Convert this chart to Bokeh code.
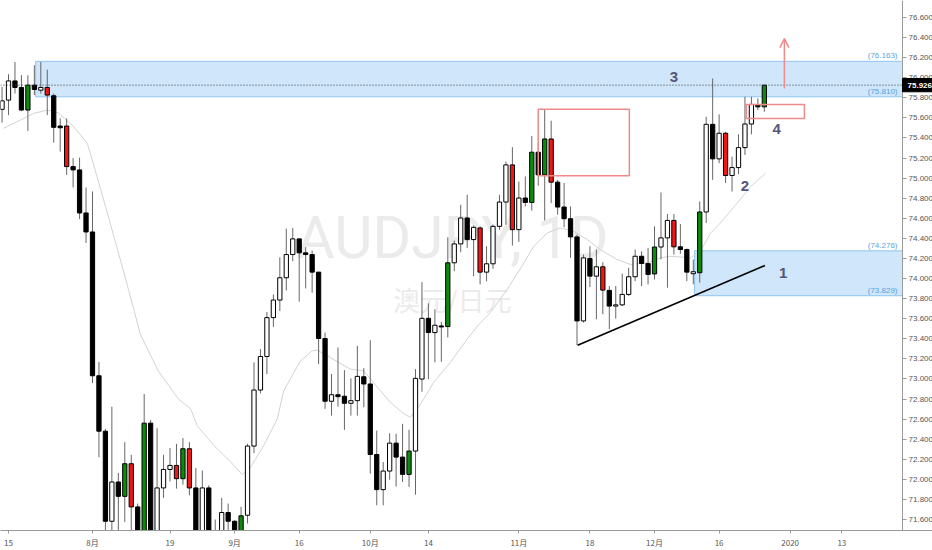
from bokeh.plotting import figure
from bokeh.models import (ColumnDataSource, Range1d, FixedTicker, NumeralTickFormatter,
                          Label, Arrow, OpenHead)
from bokeh.core.properties import value
from bokeh.embed import file_html
from bokeh.resources import INLINE

# ---------------- data ----------------
bar_idx = list(range(-1, 118))   # trading-day index, 0 = 15 Jul 2019
bar_style = ["w","w","b","b","g","b","w","r","b","b","r","b","b","b","b","b","b","w","b","g",
             "r","b","g","b","w","w","w","r","g","r","b","w","b","b","w","b","b","g","w","w",
             "w","w","w","w","w","w","b","b","b","b","b","w","b","b","w","w","b","b","b","w",
             "w","b","b","g","w","w","b","w","b","g","w","w","b","w","r","w","w","w","w","r",
             "w","b","g","b","g","r","b","b","b","b","w","b","w","r","b","w","w","w","w","b",
             "b","g","w","w","r","b","b","w","g","w","b","w","r","w","w","w","w","b","g"]
opens = [75.685,75.777,75.968,75.903,75.678,75.926,75.876,75.903,75.820,75.519,
         75.519,75.115,75.082,74.653,74.464,73.032,72.480,71.583,71.974,71.831,
         72.156,71.726,71.332,72.560,71.362,71.915,72.099,72.139,72.007,72.305,
         71.915,71.412,71.915,71.461,71.412,71.670,71.583,71.452,71.643,72.332,
         72.890,73.224,73.611,73.786,74.008,74.239,74.395,74.256,74.239,74.064,
         73.403,72.778,72.843,72.828,72.758,72.784,73.022,72.950,72.248,71.898,
         72.083,72.361,72.222,72.050,72.282,72.999,73.604,73.462,73.528,73.522,
         74.157,74.345,74.603,74.388,74.504,74.064,74.147,74.520,74.762,75.132,
         74.487,74.802,74.758,75.258,75.033,75.390,74.960,74.712,74.596,74.415,
         73.578,74.200,74.024,74.117,73.882,73.726,73.738,73.842,74.018,74.222,
         74.150,74.046,74.314,74.405,74.579,74.316,74.289,74.048,74.058,74.663,
         75.536,75.192,75.447,75.026,75.105,75.304,75.539,75.727,75.710]
highs = [75.909,76.035,76.157,76.025,76.025,76.124,76.157,76.081,75.843,75.595,
         75.595,75.199,75.205,74.907,74.867,73.171,72.503,72.724,72.064,72.371,
         72.245,71.759,72.850,72.592,72.510,72.245,72.312,72.354,72.411,72.371,
         72.113,72.089,71.941,71.600,71.816,71.759,71.593,71.726,72.354,73.165,
         73.297,73.667,73.842,74.212,74.497,74.504,74.398,74.312,74.279,74.064,
         73.462,73.049,73.314,73.088,73.006,73.330,73.108,73.386,72.486,72.173,
         72.460,72.454,72.553,72.493,73.098,73.964,73.753,73.694,73.568,74.411,
         74.378,74.735,74.834,74.527,74.520,74.322,74.537,74.834,75.165,75.308,
         74.966,75.016,75.420,75.353,75.678,75.572,74.983,74.951,74.718,74.438,
         74.239,74.322,74.289,74.163,73.925,73.925,74.048,74.107,74.289,74.272,
         74.306,74.520,74.857,74.643,74.643,74.544,74.299,74.190,74.768,75.611,
         75.992,75.635,75.462,75.214,75.437,75.810,75.810,75.794,75.926]
lows = [75.552,75.628,75.843,75.668,75.469,75.827,75.843,75.628,75.353,75.264,
        75.033,74.907,74.593,74.355,72.959,72.222,71.362,71.412,71.412,71.577,
        71.412,71.213,71.213,71.263,71.263,71.816,71.980,71.908,71.948,71.841,
        71.313,71.313,71.313,71.213,71.332,71.412,71.332,71.362,71.561,72.262,
        72.857,73.049,73.518,73.677,73.882,74.173,73.770,73.902,73.859,73.148,
        72.702,72.635,72.724,72.493,72.635,72.635,72.718,72.057,71.742,71.742,
        71.997,71.928,71.974,71.925,71.848,72.873,72.999,73.165,73.171,73.413,
        74.074,74.262,74.306,74.024,73.942,73.974,74.097,74.487,74.537,74.329,
        74.365,74.718,74.676,74.924,74.579,74.752,74.636,74.510,74.206,73.336,
        73.562,73.915,73.594,73.644,73.495,73.601,73.726,73.826,73.974,73.925,
        73.942,73.991,74.190,73.909,74.239,74.246,73.974,73.942,73.958,74.554,
        74.983,75.149,74.951,74.867,75.040,75.231,75.437,75.678,75.661]
closes = [75.770,75.968,75.903,75.678,75.926,75.883,75.903,75.827,75.506,75.502,
          75.115,75.082,74.653,74.464,73.032,72.480,71.583,71.974,71.831,72.156,
          71.726,71.313,72.560,71.362,71.915,72.099,72.139,72.007,72.305,71.915,
          71.412,71.915,71.412,71.313,71.670,71.583,71.412,71.637,72.332,72.890,
          73.224,73.611,73.786,74.008,74.239,74.395,74.256,74.239,74.064,73.403,
          72.778,72.843,72.824,72.758,72.784,73.026,72.950,72.248,71.898,72.083,
          72.361,72.222,72.050,72.282,73.006,73.604,73.462,73.535,73.518,74.157,
          74.345,74.603,74.388,74.510,74.064,74.147,74.520,74.762,75.132,74.487,
          74.802,74.758,75.258,75.033,75.390,74.960,74.712,74.596,74.415,73.578,
          74.206,74.024,74.117,73.885,73.726,73.738,73.842,74.018,74.222,74.150,
          74.041,74.314,74.405,74.579,74.316,74.289,74.064,74.068,74.663,75.536,
          75.192,75.447,75.026,75.105,75.304,75.539,75.734,75.710,75.926]

# moving average line
ma_x = [-0.8,1.9,3.9,6.0,7.7,10.1,12.2,13.7,15.3,17.3,19.4,20.4,23.2,26.3,28.2,29.2,31.8,34.4,
        36.2,37.5,39.5,41.6,42.6,45.2,47.0,47.8,49.8,52.9,55.0,57.1,59.1,61.2,62.2,63.8,65.8,
        68.4,71.0,72.6,74.6,77.2,79.8,81.3,83.4,85.4,87.5,89.6,91.6,94.2,96.3,98.9,100.9,
        102.5,105.6,107.1,108.7,110.2,112.8,114.9,117.2]
ma_y = [75.496,75.579,75.645,75.678,75.651,75.512,75.347,75.016,74.653,74.190,73.694,73.446,
        73.079,72.801,72.702,72.536,72.337,72.173,72.047,72.123,72.337,72.602,72.883,73.181,
        73.280,73.287,73.214,73.098,73.081,72.917,72.768,72.652,72.619,72.751,72.966,73.165,
        73.396,73.528,73.661,73.892,74.157,74.322,74.454,74.504,74.470,74.388,74.289,74.190,
        74.140,74.157,74.206,74.222,74.206,74.272,74.454,74.554,74.752,74.917,75.050]

# x tick positions (bar index) and labels
x_ticks = [0, 13, 25, 35, 45, 56, 65, 79, 90, 100, 110, 121, 129]
x_labels = ["15", "8月", "19", "9月", "16", "10月", "14", "11月", "18", "12月", "16", "2020", "13"]
y_ticks = [71.6, 71.8, 72.0, 72.2, 72.4, 72.6, 72.8, 73.0, 73.2, 73.4, 73.6, 73.8,
           74.0, 74.2, 74.4, 74.6, 74.8, 75.0, 75.2, 75.4, 75.6, 75.8, 76.0, 76.2, 76.4, 76.6]

last_price = 75.926
zone_top = (76.163, 75.810)      # resistance zone
zone_bottom = (74.276, 73.829)   # support zone
zone_top_start = 4.2
zone_bottom_start = 106.2
red_box = (82.0, 96.1, 75.687, 75.023)
small_box = (114.2, 123.2, 75.734, 75.595)
arrow_pts = (120.1, 75.893, 76.39)
trend = ([88.1, 117.1], [73.336, 74.130])
notes = [("3", 103.0, 76.005), ("2", 114.0, 74.917), ("4", 118.9, 75.489), ("1", 119.9, 74.058)]

# ---------------- figure ----------------
X0, X1 = -1.24, 143.03     # full canvas width
AX = 138.39                # where the price scale sits
p = figure(width=932, height=550, output_backend="svg", toolbar_location=None,
           x_range=Range1d(X0, X1), y_range=Range1d(71.491, 76.769),
           y_axis_location="right", min_border_left=0, min_border_top=0,
           min_border_right=0, min_border_bottom=18)
p.background_fill_color = "white"
p.outline_line_color = None
p.xgrid.visible = False
p.ygrid.visible = False

# watermark
p.text(x=[68.7], y=[74.408], text=["AUDJPY, 1D"], text_font=value("Roboto"),
       text_font_size="59px", text_color="#ebebeb", text_align="center", text_baseline="middle")
p.text(x=[68.7], y=[73.793], text=["澳元/日元"], text_font=value("Noto Sans CJK SC"),
       text_font_size="27px", text_color="#ebebeb", text_align="center", text_baseline="middle")

# zones
zone_fill = "#cfe6fb"
zone_line = "#8fc6f3"
p.quad(left=[zone_top_start], right=[AX], top=[zone_top[0]], bottom=[zone_top[1]],
       fill_color=zone_fill, line_color=zone_line, line_width=1)
p.quad(left=[zone_bottom_start], right=[AX], top=[zone_bottom[0]], bottom=[zone_bottom[1]],
       fill_color=zone_fill, line_color=zone_line, line_width=1)
for v in list(zone_top) + list(zone_bottom):
    p.add_layout(Label(x=AX, y=v, text="(%.3f)" % v, x_offset=-5, y_offset=1,
                       text_align="right", text_baseline="bottom", text_font_size="8px",
                       text_font="Liberation Sans", text_color="#5aa2e0"))

# moving average
p.line(ma_x, ma_y, line_color="#d3d3d3", line_width=1)

# candles
fills = {"w": "#ffffff", "b": "#000000", "g": "#0c8a0c", "r": "#f01616"}
src = ColumnDataSource(dict(
    x=bar_idx, high=highs, low=lows,
    top=[max(o, c) for o, c in zip(opens, closes)],
    bottom=[min(o, c) for o, c in zip(opens, closes)],
    fill=[fills[s] for s in bar_style]))
p.segment(x0="x", y0="high", x1="x", y1="low", source=src, line_color="#666666", line_width=1)
p.vbar(x="x", width=0.66, top="top", bottom="bottom", source=src,
       fill_color="fill", line_color="#000000", line_width=1)

# last price dotted line
p.segment(x0=[X0], y0=[last_price], x1=[AX], y1=[last_price], line_color="#333333",
          line_width=1, line_dash="1 2")

# drawings
p.quad(left=[red_box[0]], right=[red_box[1]], top=[red_box[2]], bottom=[red_box[3]],
       fill_color=None, line_color="#f08a8a", line_width=1.5)
p.quad(left=[small_box[0]], right=[small_box[1]], top=[small_box[2]], bottom=[small_box[3]],
       fill_color=None, line_color="#f08a8a", line_width=1.5)
p.add_layout(Arrow(x_start=arrow_pts[0], y_start=arrow_pts[1], x_end=arrow_pts[0], y_end=arrow_pts[2],
                   line_color="#f08a8a", line_width=1.5,
                   end=OpenHead(size=9, line_color="#f08a8a", line_width=1.5)))
p.line(trend[0], trend[1], line_color="#000000", line_width=1.6)
for t, xx, yy in notes:
    p.add_layout(Label(x=xx, y=yy, text=t, text_align="center", text_baseline="middle",
                       text_font_size="15px", text_font_style="bold", text_font="Liberation Sans",
                       text_color="#56567a"))

# axes
xa = p.xaxis[0]
xa.ticker = FixedTicker(ticks=x_ticks)
xa.major_label_overrides = {t: l for t, l in zip(x_ticks, x_labels)}
xa.major_label_text_font = "Noto Sans CJK SC"
xa.major_label_text_font_size = "8px"
xa.major_label_text_color = "#555555"
xa.axis_line_color = "#9a9a9a"
xa.major_tick_line_color = "#9a9a9a"
xa.major_tick_out = 3
xa.major_tick_in = 0
xa.minor_tick_line_color = None
xa.major_label_standoff = 3

ya = p.yaxis[0]
ya.fixed_location = AX
ya.ticker = FixedTicker(ticks=y_ticks)
ya.formatter = NumeralTickFormatter(format="0.000")
ya.major_label_text_font = "Liberation Sans"
ya.major_label_text_font_size = "8px"
ya.major_label_text_color = "#555555"
ya.axis_line_color = "#9a9a9a"
ya.major_tick_line_color = "#9a9a9a"
ya.major_tick_out = 4
ya.major_tick_in = 0
ya.minor_tick_line_color = None
ya.major_label_standoff = 2

# last price tag on the price scale
p.quad(left=[AX], right=[X1], top=[last_price + 0.066], bottom=[last_price - 0.066],
       fill_color="black", line_color="black", level="overlay")
p.text(x=[AX], y=[last_price], text=["%.3f" % last_price], x_offset=5,
       text_align="left", text_baseline="middle", text_font_size="8px",
       text_font=value("Liberation Sans"), text_font_style="bold", text_color="white",
       level="overlay")

open("out.html", "w").write(file_html(p, INLINE))
